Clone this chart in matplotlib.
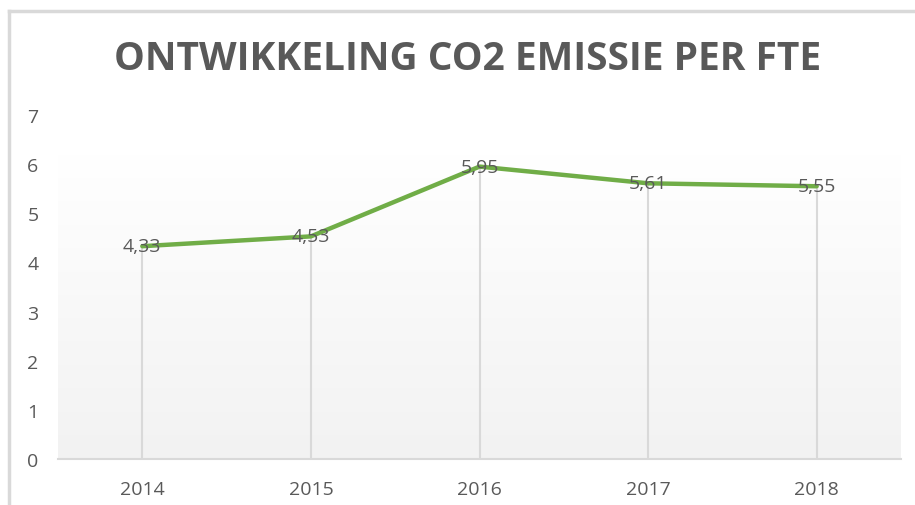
import matplotlib
matplotlib.use('Agg')
import matplotlib.pyplot as plt
import numpy as np
from matplotlib.lines import Line2D

years = ["2014", "2015", "2016", "2017", "2018"]
values = [4.33, 4.53, 5.95, 5.61, 5.55]
value_labels = ["4,33", "4,53", "5,95", "5,61", "5,55"]
y_ticks = [0, 1, 2, 3, 4, 5, 6, 7]

plt.rcParams['font.family'] = ['Open Sans', 'DejaVu Sans']
text_grey = "#595959"

fig = plt.figure(figsize=(9.15, 5.06), dpi=100)
W, H = 915, 506

# chart frame (cut off at right and bottom)
fig.add_artist(Line2D([9 / W, 9 / W], [0, 1 - 12 / H], color="#d9d9d9", lw=2.5))
fig.add_artist(Line2D([9 / W, 1], [1 - 12 / H, 1 - 12 / H], color="#d9d9d9", lw=2.5))

ax = fig.add_axes([58 / W, 1 - 460 / H, (901 - 58) / W, (460 - 116) / H])
x = np.arange(len(years))
ax.set_xlim(-0.5, len(years) - 0.5)
ax.set_ylim(0, 7)

# gradient fill of plot area: white at top, light grey at bottom
grad = np.linspace(0, 1, 256).reshape(-1, 1)
ax.imshow(grad, cmap=matplotlib.colors.LinearSegmentedColormap.from_list(
    "bg", ["#f2f2f2", "#ffffff"]), origin="lower", aspect="auto",
    extent=(-0.5, len(years) - 0.5, 0, 6.2), zorder=0)

# drop lines
ax.vlines(x, 0, values, color="#d9d9d9", lw=1.5, zorder=1)

ax.plot(x, values, color="#70ad47", lw=3.2, solid_joinstyle="round",
        solid_capstyle="round", zorder=2)

for xi, v, lab in zip(x, values, value_labels):
    ax.text(xi, v, lab, ha="center", va="center", fontsize=14,
            color=text_grey, zorder=3)

for s in ["top", "right", "left"]:
    ax.spines[s].set_visible(False)
ax.spines["bottom"].set_color("#d9d9d9")
ax.spines["bottom"].set_linewidth(1.5)

ax.set_xticks(x)
ax.set_xticklabels(years)
ax.set_yticks(y_ticks)
ax.tick_params(axis="both", length=0, labelsize=14, labelcolor=text_grey)
ax.tick_params(axis="x", pad=15)
ax.tick_params(axis="y", pad=14)

fig.text(468 / W, 1 - 60 / H, "ONTWIKKELING CO2 EMISSIE PER FTE",
         ha="center", va="center", fontsize=28, fontweight="bold",
         color=text_grey)

fig.savefig("out.png", dpi=100)
